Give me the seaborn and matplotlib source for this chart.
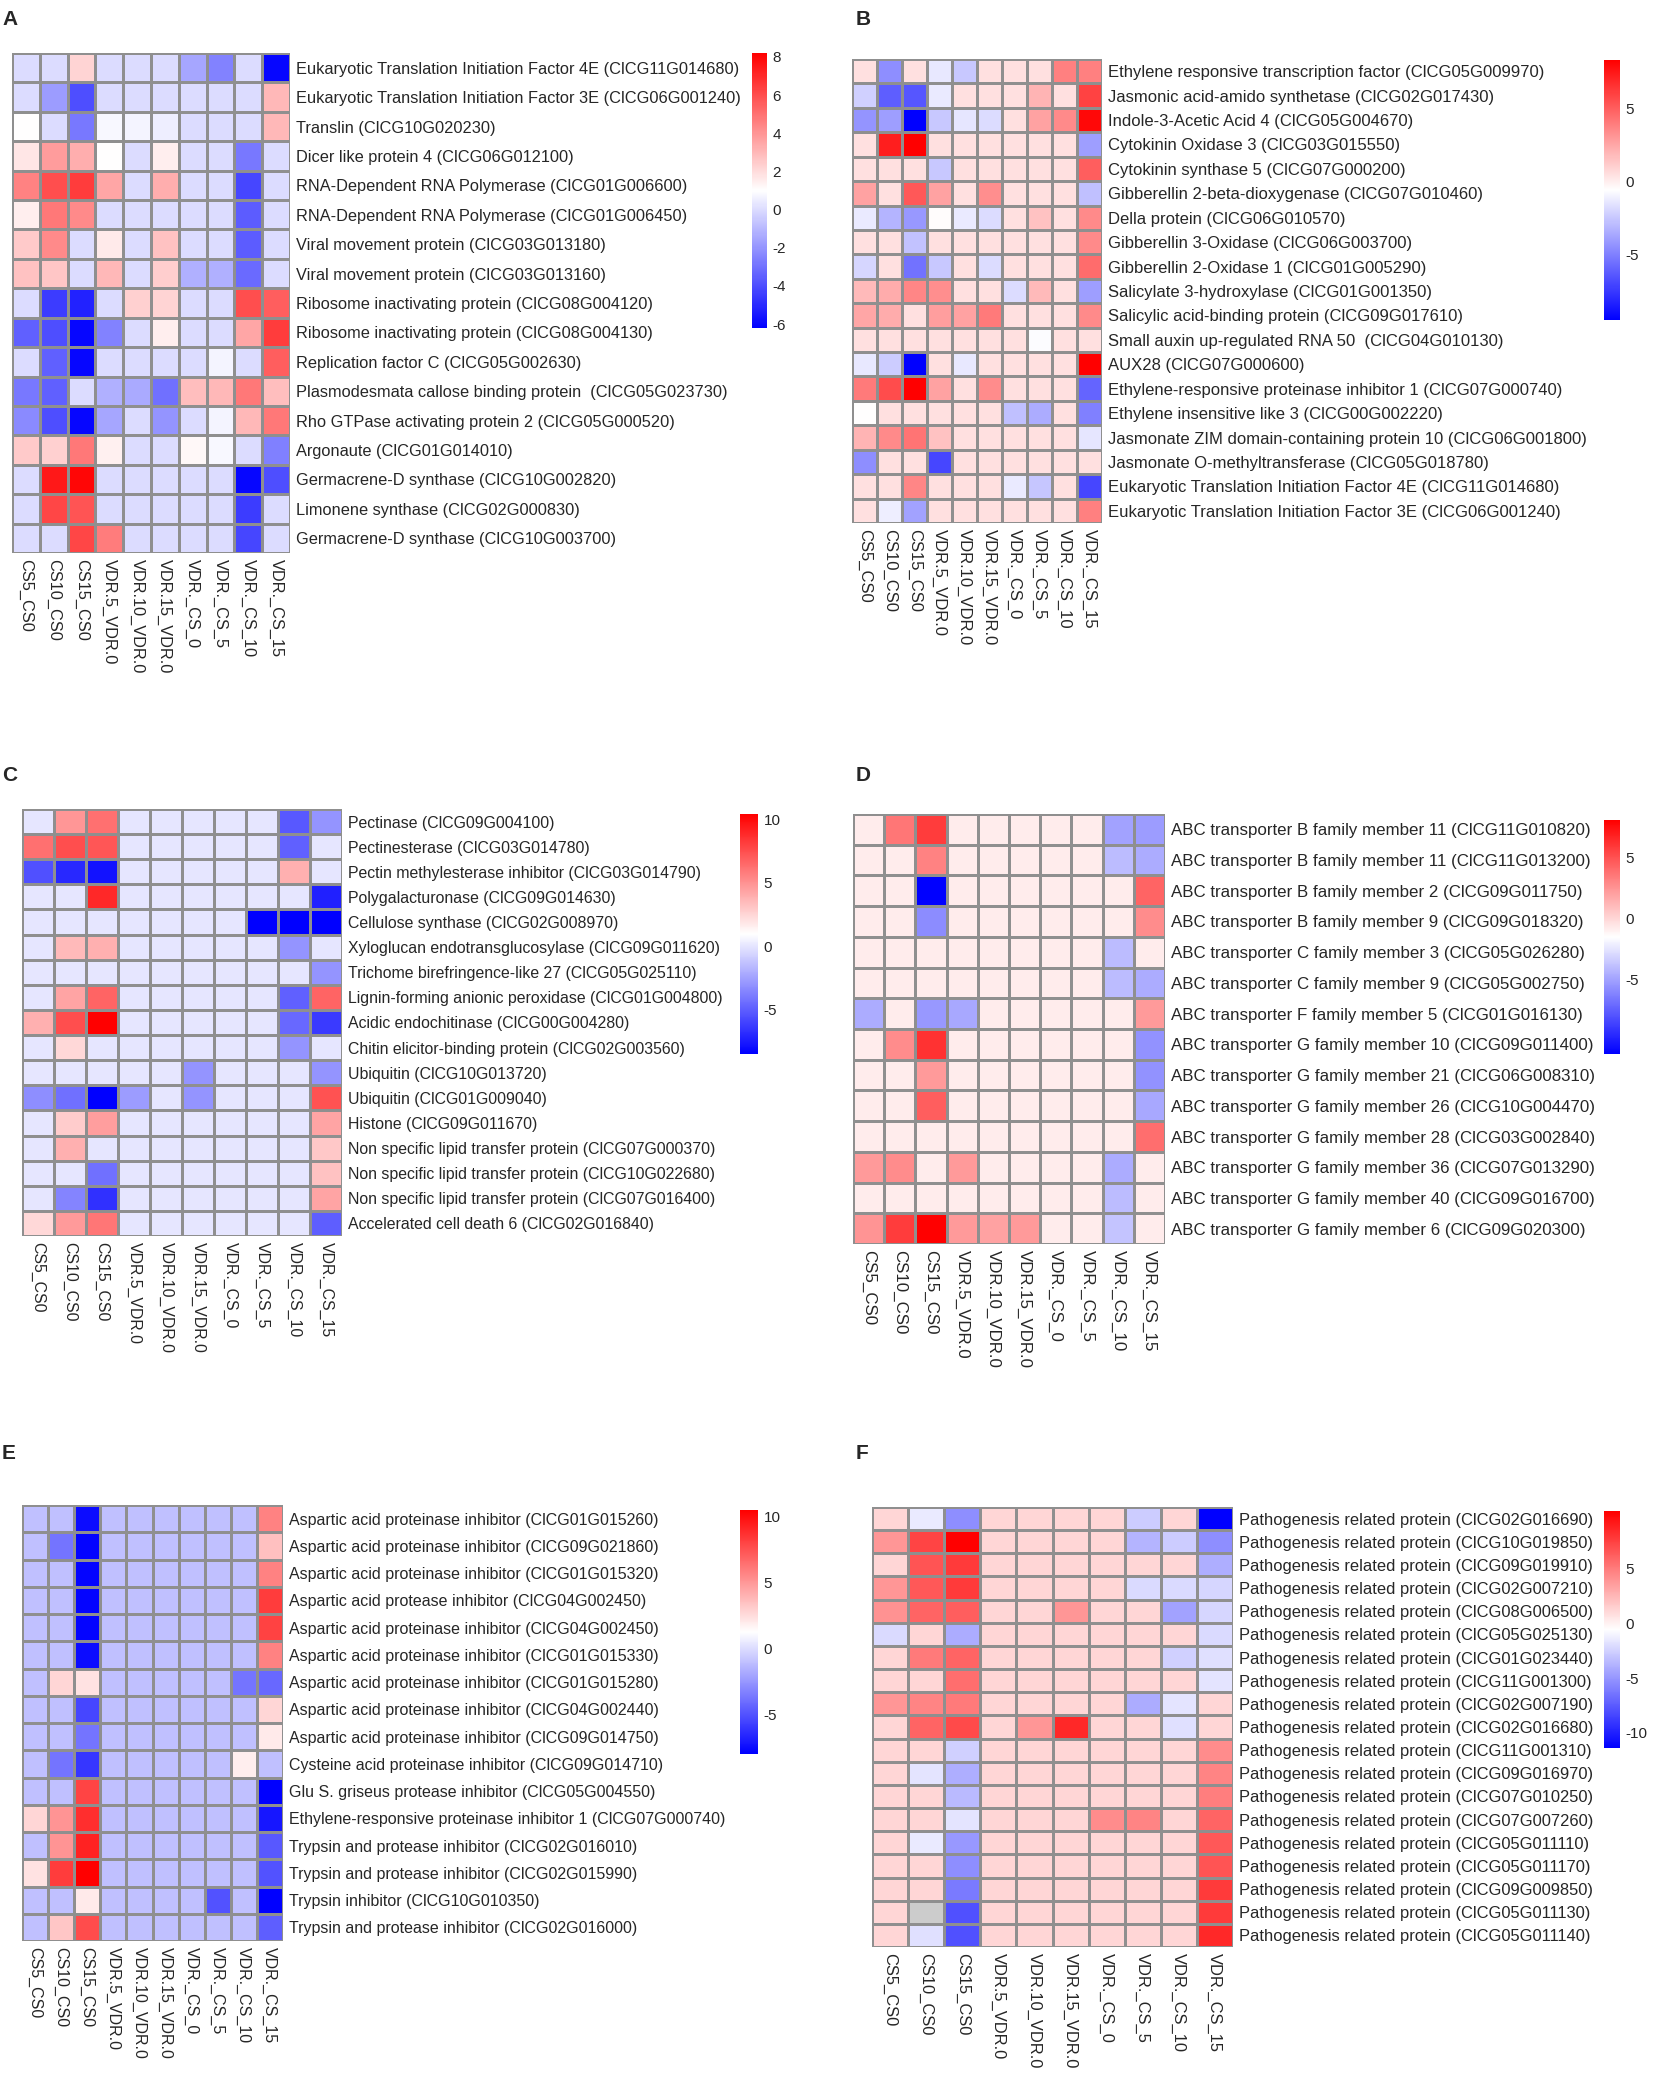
import numpy as np
import matplotlib
matplotlib.use("Agg")
import matplotlib.pyplot as plt
import seaborn as sns

sns.set_style("white")
plt.rcParams['font.family'] = ['Liberation Sans', 'DejaVu Sans']

contrasts = ['CS5_CS0', 'CS10_CS0', 'CS15_CS0', 'VDR.5_VDR.0', 'VDR.10_VDR.0',
             'VDR.15_VDR.0', 'VDR._CS_0', 'VDR._CS_5', 'VDR._CS_10', 'VDR._CS_15']

# ---- A : virus related
genes_a = [
    'Eukaryotic Translation Initiation Factor 4E (ClCG11G014680)',
    'Eukaryotic Translation Initiation Factor 3E (ClCG06G001240)',
    'Translin (ClCG10G020230)',
    'Dicer like protein 4 (ClCG06G012100)',
    'RNA-Dependent RNA Polymerase (ClCG01G006600)',
    'RNA-Dependent RNA Polymerase (ClCG01G006450)',
    'Viral movement protein (ClCG03G013180)',
    'Viral movement protein (ClCG03G013160)',
    'Ribosome inactivating protein (ClCG08G004120)',
    'Ribosome inactivating protein (ClCG08G004130)',
    'Replication factor C (ClCG05G002630)',
    'Plasmodesmata callose binding protein  (ClCG05G023730)',
    'Rho GTPase activating protein 2 (ClCG05G000520)',
    'Argonaute (ClCG01G014010)',
    'Germacrene-D synthase (ClCG10G002820)',
    'Limonene synthase (ClCG02G000830)',
    'Germacrene-D synthase (ClCG10G003700)',
]
fc_a = [
    [0, 0, 2.2, 0, 0, 0, -1.5, -2.5, 0, -6],
    [0, -1.8, -4, 0, 0, 0, 0, 0, 0, 3],
    [1, 0, -2.8, 0.8, 0.7, 0.5, 0, 0, 0, 3],
    [1.7, 3.8, 3.3, 1, 0, 1.5, 0, 0, -2.8, 0],
    [4.5, 6, 6.5, 3.5, 0, 3.3, 0, 0, -4.2, 0],
    [1.5, 4.8, 4.3, 0, 0, 0, 0, 0, -3.6, 0],
    [2.5, 4.3, 0, 1.6, 0, 2.7, 0, 0, -3.6, 0],
    [2.7, 2.6, 0, 3, 0, 2.4, -1.2, -1.2, -3.2, 0],
    [0, -4.5, -5.2, 0, 2.3, 2.2, 0, 0, 6, 5.5],
    [-3.5, -4, -6, -2.5, 0, 1.5, 0, 0, 3.5, 6.5],
    [0, -3.5, -6, 0, 0, 0, 0, 0.7, 0, 5.5],
    [-2.8, -3.5, 0, -1.2, -1.4, -3, 2.8, 3, 4.8, 2.8],
    [-2.3, -4, -6, -1.5, 0, -2, 0, 0.7, 3, 4.8],
    [2.5, 2.3, 4.8, 1.4, 0, 0, 1.2, 0.8, 0, -2.6],
    [0, 7.5, 8, 0, 0, 0, 0, 0, -6, -4],
    [0, 6.2, 5.8, 0, 0, 0, 0, 0, -4.5, 0],
    [0, 0, 6.2, 4.7, 0, 0, 0, 0, -4.2, 0],
]

# ---- B : hormone related
genes_b = [
    'Ethylene responsive transcription factor (ClCG05G009970)',
    'Jasmonic acid-amido synthetase (ClCG02G017430)',
    'Indole-3-Acetic Acid 4 (ClCG05G004670)',
    'Cytokinin Oxidase 3 (ClCG03G015550)',
    'Cytokinin synthase 5 (ClCG07G000200)',
    'Gibberellin 2-beta-dioxygenase (ClCG07G010460)',
    'Della protein (ClCG06G010570)',
    'Gibberellin 3-Oxidase (ClCG06G003700)',
    'Gibberellin 2-Oxidase 1 (ClCG01G005290)',
    'Salicylate 3-hydroxylase (ClCG01G001350)',
    'Salicylic acid-binding protein (ClCG09G017610)',
    'Small auxin up-regulated RNA 50  (ClCG04G010130)',
    'AUX28 (ClCG07G000600)',
    'Ethylene-responsive proteinase inhibitor 1 (ClCG07G000740)',
    'Ethylene insensitive like 3 (ClCG00G002220)',
    'Jasmonate ZIM domain-containing protein 10 (ClCG06G001800)',
    'Jasmonate O-methyltransferase (ClCG05G018780)',
    'Eukaryotic Translation Initiation Factor 4E (ClCG11G014680)',
    'Eukaryotic Translation Initiation Factor 3E (ClCG06G001240)',
]
fc_b = [
    [0.5, -4.5, 0.5, -1.4, -2.5, 0.5, 0.5, 0.5, 3.8, 3.8],
    [-2.2, -6.2, -6.5, -1.3, 0.5, 0.5, 0.5, 2, 0.5, 6],
    [-4.3, -4, -9.5, -2.5, -1.5, -1.8, 0.5, 2.6, 3.5, 8],
    [0.5, 7.2, 8.3, 0.5, 0.5, 0.5, 0.5, 0.5, 0.5, -4],
    [0.5, 0.5, 0.5, -2.5, 0.5, 0.5, 0.5, 0.5, 0.5, 5],
    [2.6, 0.5, 5.2, 2.6, 0.5, 3.3, 0.5, 0.5, 0.5, -2.8],
    [-1.3, -3.2, -4.2, -0.5, -1.3, -1.8, 0.5, 1.5, 0.5, 3.5],
    [0.5, 0.5, -2.7, 0.5, 0.5, 0.5, 0.5, 0.5, 0.5, 3.5],
    [-2, 0.5, -5.5, -2.5, 0.5, -1.8, 0.5, 0.5, 0.5, 4.5],
    [1.8, 2.3, 3.6, 3.3, 0.5, 0.5, -1.8, 1.8, 0.5, -4],
    [2.5, 2.3, 0.5, 2.8, 2.6, 4, 0.5, 0.5, 0.5, 3.5],
    [0.5, 0.5, 0.5, 0.5, 0.5, 0.5, 0.5, -0.7, 0.5, 0.5],
    [-1.4, -2.4, -9.5, 0.5, -1.4, 0.5, 0.5, 0.5, 0.5, 8.3],
    [4, 5.6, 8.3, 2.6, 0.5, 3.4, 0.5, 0.5, 0.5, -6],
    [-0.6, 0.5, 0.5, 0.5, 0.5, 0.5, -2.8, -3.5, 0.5, -5],
    [2, 3.5, 4.2, 1.5, 0.5, 0.5, 0.5, 0.5, 0.5, -1.5],
    [-4.5, 0.5, 0.5, -7, 0.5, 0.5, 0.5, 0.5, 0.5, 0.5],
    [0.5, 0.5, 3.6, 0.5, 0.5, 0.5, -1.3, -2.6, 0.5, -7],
    [0.5, -1.2, -3.8, 0.5, 0.5, 0.5, 0.5, 0.5, 0.5, 3.8],
]

# ---- C : cell wall / defence
genes_c = [
    'Pectinase (ClCG09G004100)',
    'Pectinesterase (ClCG03G014780)',
    'Pectin methylesterase inhibitor (ClCG03G014790)',
    'Polygalacturonase (ClCG09G014630)',
    'Cellulose synthase (ClCG02G008970)',
    'Xyloglucan endotransglucosylase (ClCG09G011620)',
    'Trichome birefringence-like 27 (ClCG05G025110)',
    'Lignin-forming anionic peroxidase (ClCG01G004800)',
    'Acidic endochitinase (ClCG00G004280)',
    'Chitin elicitor-binding protein (ClCG02G003560)',
    'Ubiquitin (ClCG10G013720)',
    'Ubiquitin (ClCG01G009040)',
    'Histone (ClCG09G011670)',
    'Non specific lipid transfer protein (ClCG07G000370)',
    'Non specific lipid transfer protein (ClCG10G022680)',
    'Non specific lipid transfer protein (ClCG07G016400)',
    'Accelerated cell death 6 (ClCG02G016840)',
]
fc_c = [
    [0, 4.8, 6.2, 0, 0, 0, 0, 0, -5.2, -3],
    [6.2, 7.5, 7.2, 0, 0, 0, 0, 0, -4.9, 0],
    [-5.5, -7, -7.8, 0, 0, 0, 0, 0, 3.9, 0],
    [0, 0, 8.9, 0, 0, 0, 0, 0, 0, -7.3],
    [0, 0, 0, 0, 0, 0, 0, -8.5, -8.5, -8.5],
    [0, 3.5, 3.9, 0, 0, 0, 0, 0, -3, 0],
    [0, 0, 0, 0, 0, 0, 0, 0, 0, -3],
    [0, 4.3, 6.7, 0, 0, 0, 0, 0, -4.9, 6.7],
    [3.9, 7.5, 10.4, 0, 0, 0, 0, 0, -4.6, -6.3],
    [0, 2.4, 0, 0, 0, 0, 0, 0, -3, 0],
    [0, 0, 0, 0, 0, -3, 0, 0, 0, -3],
    [-3.2, -4.3, -8.5, -2.7, 0, -3, 0, 0, 0, 7.3],
    [0, 2.8, 4.5, 0, 0, 0, 0, 0, 0, 4.3],
    [0, 3.9, 0, 0, 0, 0, 0, 0, 0, 3],
    [0, 0, -4.3, 0, 0, 0, 0, 0, 0, 3.2],
    [0, -3.6, -6.7, 0, 0, 0, 0, 0, 0, 4.3],
    [2.4, 4.7, 6, 0, 0, 0, 0, 0, 0, -5],
]

# ---- D : ABC transporters
genes_d = [
    'ABC transporter B family member 11 (ClCG11G010820)',
    'ABC transporter B family member 11 (ClCG11G013200)',
    'ABC transporter B family member 2 (ClCG09G011750)',
    'ABC transporter B family member 9 (ClCG09G018320)',
    'ABC transporter C family member 3 (ClCG05G026280)',
    'ABC transporter C family member 9 (ClCG05G002750)',
    'ABC transporter F family member 5 (ClCG01G016130)',
    'ABC transporter G family member 10 (ClCG09G011400)',
    'ABC transporter G family member 21 (ClCG06G008310)',
    'ABC transporter G family member 26 (ClCG10G004470)',
    'ABC transporter G family member 28 (ClCG03G002840)',
    'ABC transporter G family member 36 (ClCG07G013290)',
    'ABC transporter G family member 40 (ClCG09G016700)',
    'ABC transporter G family member 6 (ClCG09G020300)',
]
fc_d = [
    [-0.8, 3.6, 5.8, -0.8, -0.8, -0.8, -0.8, -0.8, -5, -5.2],
    [-0.8, -0.8, 3.2, -0.8, -0.8, -0.8, -0.8, -0.8, -4, -4.6],
    [-0.8, -0.8, -11.1, -0.8, -0.8, -0.8, -0.8, -0.8, -0.8, 4.3],
    [-0.8, -0.8, -5.8, -0.8, -0.8, -0.8, -0.8, -0.8, -0.8, 2.8],
    [-0.8, -0.8, -0.8, -0.8, -0.8, -0.8, -0.8, -0.8, -4, -0.8],
    [-0.8, -0.8, -0.8, -0.8, -0.8, -0.8, -0.8, -0.8, -4, -4.6],
    [-4.6, -0.8, -5.4, -4.8, -0.8, -0.8, -0.8, -0.8, -0.8, 2.3],
    [-0.8, 2.8, 6.2, -0.8, -0.8, -0.8, -0.8, -0.8, -0.8, -5.6],
    [-0.8, -0.8, 2.3, -0.8, -0.8, -0.8, -0.8, -0.8, -0.8, -5.6],
    [-0.8, -0.8, 4.5, -0.8, -0.8, -0.8, -0.8, -0.8, -0.8, -4.8],
    [-0.8, -0.8, -0.8, -0.8, -0.8, -0.8, -0.8, -0.8, -0.8, 3.9],
    [2.3, 2.8, -0.8, 2.3, -0.8, -0.8, -0.8, -0.8, -4.6, -0.8],
    [-0.8, -0.8, -0.8, -0.8, -0.8, -0.8, -0.8, -0.8, -4, -0.8],
    [2.5, 5.8, 8.1, 2.3, 2.0, 2.3, -0.8, -0.8, -3.7, -0.8],
]

# ---- E : proteinase inhibitors
genes_e = [
    'Aspartic acid proteinase inhibitor (ClCG01G015260)',
    'Aspartic acid proteinase inhibitor (ClCG09G021860)',
    'Aspartic acid proteinase inhibitor (ClCG01G015320)',
    'Aspartic acid protease inhibitor (ClCG04G002450)',
    'Aspartic acid proteinase inhibitor (ClCG04G002450)',
    'Aspartic acid proteinase inhibitor (ClCG01G015330)',
    'Aspartic acid proteinase inhibitor (ClCG01G015280)',
    'Aspartic acid proteinase inhibitor (ClCG04G002440)',
    'Aspartic acid proteinase inhibitor (ClCG09G014750)',
    'Cysteine acid proteinase inhibitor (ClCG09G014710)',
    'Glu S. griseus protease inhibitor (ClCG05G004550)',
    'Ethylene-responsive proteinase inhibitor 1 (ClCG07G000740)',
    'Trypsin and protease inhibitor (ClCG02G016010)',
    'Trypsin and protease inhibitor (ClCG02G015990)',
    'Trypsin inhibitor (ClCG10G010350)',
    'Trypsin and protease inhibitor (ClCG02G016000)',
]
fc_e = [
    [-1, -1, -7.5, -1, -1, -1, -1, -1, -1, 5.8],
    [-1, -3.8, -7.8, -1, -1, -1, -1, -1, -1, 3.5],
    [-1, -1, -7.8, -1, -1, -1, -1, -1, -1, 5.8],
    [-1, -1, -7.8, -1, -1, -1, -1, -1, -1, 8.3],
    [-1, -1, -7.8, -1, -1, -1, -1, -1, -1, 8.1],
    [-1, -1, -7.5, -1, -1, -1, -1, -1, -1, 5.8],
    [-1, 2.7, 2.3, -1, -1, -1, -1, -1, -3.8, -4.2],
    [-1, -1, -5.4, -1, -1, -1, -1, -1, -1, 2.7],
    [-1, -1, -3.8, -1, -1, -1, -1, -1, -1, 2.0],
    [-1, -3.8, -6, -1, -1, -1, -1, -1, 1.9, -1],
    [-1, -1, 8, -1, -1, -1, -1, -1, -1, -8],
    [2.7, 5.1, 8.8, -1, -1, -1, -1, -1, -1, -7.2],
    [-1, 5.1, 9.2, -1, -1, -1, -1, -1, -1, -4.8],
    [2.3, 8.3, 10.5, -1, -1, -1, -1, -1, -1, -5],
    [-1, -1, 2.0, -1, -1, -1, -1, -5, -1, -8],
    [-1, 3.3, 7.7, -1, -1, -1, -1, -1, -1, -4.6],
]

# ---- F : pathogenesis related proteins
pr_ids = ['ClCG02G016690', 'ClCG10G019850', 'ClCG09G019910', 'ClCG02G007210',
          'ClCG08G006500', 'ClCG05G025130', 'ClCG01G023440', 'ClCG11G001300',
          'ClCG02G007190', 'ClCG02G016680', 'ClCG11G001310', 'ClCG09G016970',
          'ClCG07G010250', 'ClCG07G007260', 'ClCG05G011110', 'ClCG05G011170',
          'ClCG09G009850', 'ClCG05G011130', 'ClCG05G011140']
genes_f = ['Pathogenesis related protein (%s)' % g for g in pr_ids]
fc_f = [
    [1.2, -1.4, -5.3, 1.2, 1.2, 1.2, 1.2, -2.7, 1.2, -11.4],
    [3.9, 7.4, 10.3, 1.2, 1.2, 1.2, 1.2, -3.7, -2.7, -5.3],
    [1.2, 6.7, 7.8, 1.2, 1.2, 1.2, 1.2, 1.2, 1.2, -4],
    [3.9, 6.5, 7.8, 1.2, 1.2, 1.2, 1.2, -2.1, -2.1, -2.3],
    [4.1, 6, 6.3, 1.2, 1.2, 3.9, 1.2, 1.2, -4.5, -2.3],
    [-2.1, 1.2, -4.1, 1.2, 1.2, 1.2, 1.2, 1.2, 1.2, -2.1],
    [1.2, 5.1, 6, 1.2, 1.2, 1.2, 1.2, 1.2, -2.5, -1.9],
    [1.2, 1.2, 5.6, 1.2, 1.2, 1.2, 1.2, 1.2, 1.2, -1.7],
    [3.9, 4.7, 5.1, 1.2, 1.2, 1.2, 1.2, -4.1, -1.7, 1.2],
    [1.2, 6, 7.1, 1.2, 3.9, 8.6, 1.2, 1.2, -1.9, 1.2],
    [1.2, 1.2, -2.5, 1.2, 1.2, 1.2, 1.2, 1.2, 1.2, 4.3],
    [1.2, -1.7, -4, 1.2, 1.2, 1.2, 1.2, 1.2, 1.2, 4.7],
    [1.2, 1.2, -3.5, 1.2, 1.2, 1.2, 1.2, 1.2, 1.2, 4.9],
    [1.2, 1.2, -1.7, 1.2, 1.2, 1.2, 4.3, 4.7, 1.2, 6],
    [1.2, -1.4, -4.9, 1.2, 1.2, 1.2, 1.2, 1.2, 1.2, 6.5],
    [1.2, 1.2, -5.3, 1.2, 1.2, 1.2, 1.2, 1.2, 1.2, 6.7],
    [1.2, 1.2, -6.2, 1.2, 1.2, 1.2, 1.2, 1.2, 1.2, 7.8],
    [1.2, np.nan, -8, 1.2, 1.2, 1.2, 1.2, 1.2, 1.2, 7.8],
    [1.2, -1.9, -8, 1.2, 1.2, 1.2, 1.2, 1.2, 1.2, 8.6],
]

W, H = 1654, 2073
fig = plt.figure(figsize=(W / 100, H / 100), dpi=100)


def rect(x0, y0, x1, y1):
    return [x0 / W, 1 - y1 / H, (x1 - x0) / W, (y1 - y0) / H]


def heat_panel(letter, values, genes, grid_box, cbar_box, vmin, vmax, ticks, fs, letter_xy):
    ax = fig.add_axes(rect(*grid_box))
    cax = fig.add_axes(rect(*cbar_box))
    ax.set_facecolor('#cccccc')
    sns.heatmap(np.array(values, dtype=float), ax=ax, cbar_ax=cax, cmap='bwr',
                vmin=vmin, vmax=vmax, linewidths=1.0, linecolor='#8f8f8f',
                xticklabels=contrasts, yticklabels=genes)
    ax.yaxis.tick_right()
    ax.tick_params(axis='both', length=0, pad=4)
    ax.set_yticklabels(genes, rotation=0, ha='left', fontsize=fs)
    ax.set_xticklabels(contrasts, rotation=270, ha='center', va='top', fontsize=fs)
    cb = ax.collections[0].colorbar
    cb.outline.set_visible(False)
    cb.set_ticks(ticks)
    cb.set_ticklabels([str(t) for t in ticks])
    cax.tick_params(length=0, labelsize=11, pad=4)
    fig.text(letter_xy[0] / W, 1 - letter_xy[1] / H, letter, fontsize=15,
             fontweight='bold', ha='left', va='top')


heat_panel('A', fc_a, genes_a, (12, 53, 290, 553), (752, 53, 767, 328),
           -6.2, 8.2, [8, 6, 4, 2, 0, -2, -4, -6], 11.8, (2, 10))
heat_panel('B', fc_b, genes_b, (852, 59, 1102, 523), (1604, 60, 1620, 320),
           -9.5, 8.3, [5, 0, -5], 12, (856, 10))
heat_panel('C', fc_c, genes_c, (22, 809, 342, 1236), (740, 814, 758, 1054),
           -8.5, 10.4, [10, 5, 0, -5], 11.4, (2, 766))
heat_panel('D', fc_d, genes_d, (853, 814, 1165, 1244), (1604, 820, 1620, 1054),
           -11.1, 8.1, [5, 0, -5], 12.2, (856, 766))
heat_panel('E', fc_e, genes_e, (22, 1505, 283, 1941), (740, 1510, 758, 1754),
           -8, 10.5, [10, 5, 0, -5], 11.5, (2, 1444))
heat_panel('F', fc_f, genes_f, (872, 1507, 1233, 1947), (1604, 1511, 1620, 1748),
           -11.4, 10.3, [5, 0, -5, -10], 11.9, (856, 1444))

fig.savefig('out.png', dpi=100)
